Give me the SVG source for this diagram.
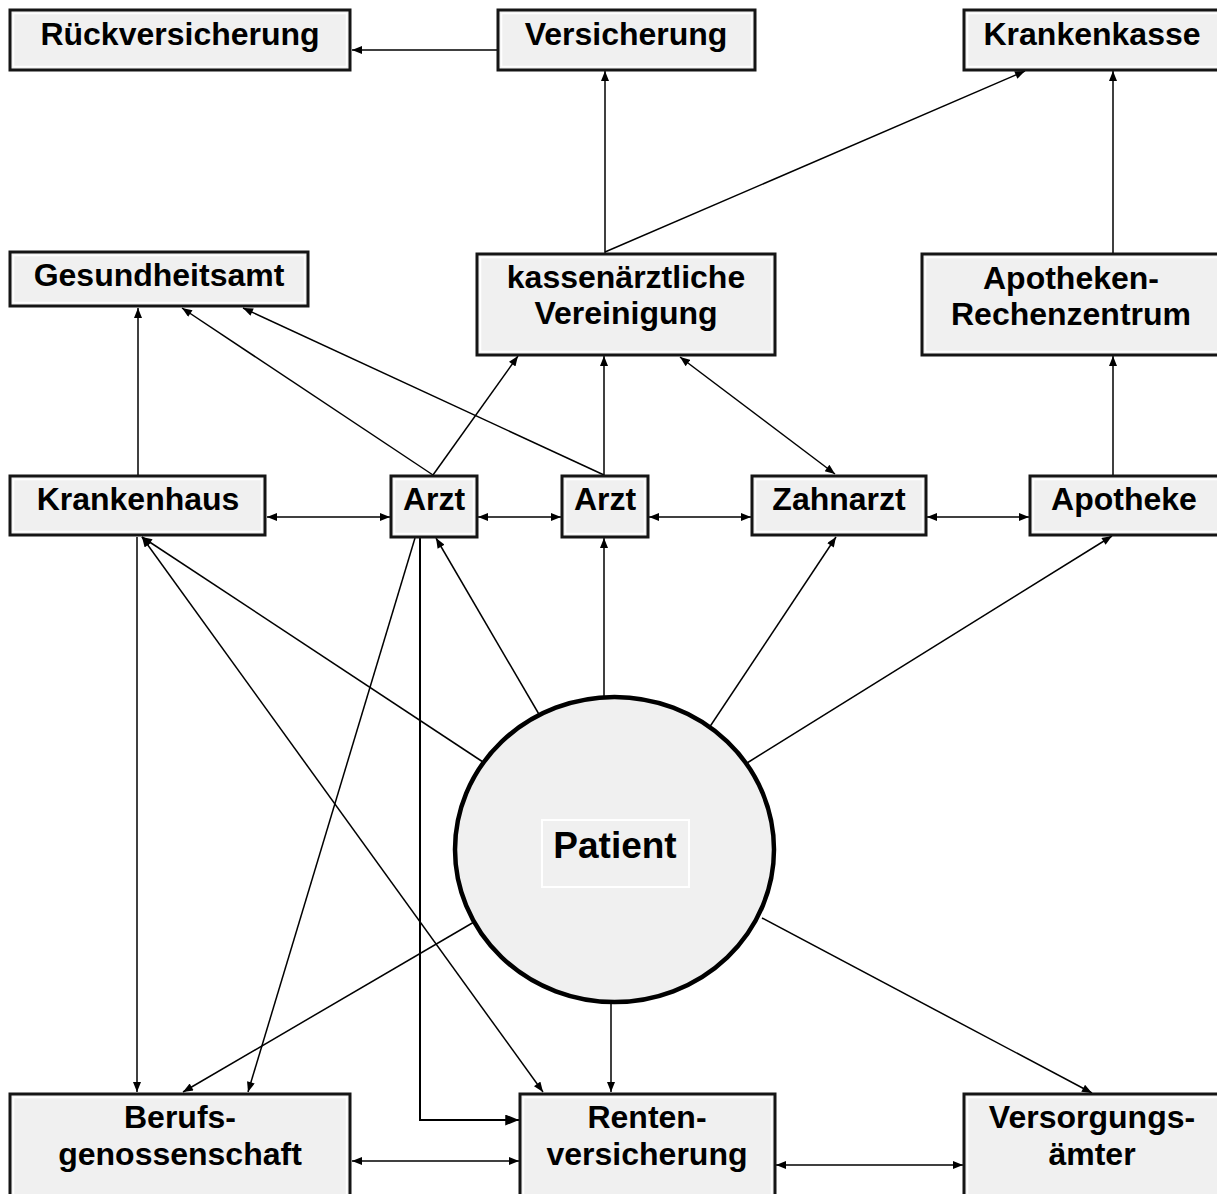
<svg xmlns="http://www.w3.org/2000/svg" width="1217" height="1194" viewBox="0 0 1217 1194">
<style>
.box{fill:#f0f0f0;stroke:#151515;stroke-width:3}
.inner{fill:none;stroke:#ffffff;stroke-width:1.5}
.t{font-family:"Liberation Sans",Arial,sans-serif;font-weight:bold;font-size:32px;fill:#000;text-anchor:middle}
.c{fill:none;stroke:#000;stroke-width:1.5}
.a{marker-end:url(#ah)}
.b{marker-start:url(#ah);marker-end:url(#ah)}
</style>
<defs>
<marker id="ah" viewBox="0 0 10 8" refX="10" refY="4" markerWidth="11" markerHeight="8" orient="auto-start-reverse" markerUnits="userSpaceOnUse"><path d="M0,0 L10,4 L0,8 z" fill="#000"/></marker>
<marker id="ahl" viewBox="0 0 10 8" refX="10" refY="4" markerWidth="14" markerHeight="11" orient="auto" markerUnits="userSpaceOnUse"><path d="M0,0 L10,4 L0,8 z" fill="#000"/></marker>
</defs>
<rect width="1217" height="1194" fill="#fff"/>

<g id="connectors">
<line class="c a" x1="497" y1="50" x2="352" y2="50"/>
<line class="c a" x1="605" y1="253" x2="605" y2="71"/>
<line class="c a" x1="605" y1="252" x2="1025" y2="71"/>
<line class="c a" x1="1113" y1="253" x2="1113" y2="71"/>
<line class="c a" x1="138" y1="475" x2="138" y2="308"/>
<line class="c a" x1="433" y1="475" x2="182" y2="308"/>
<line class="c a" x1="604" y1="475" x2="243" y2="308"/>
<line class="c a" x1="433" y1="475" x2="518" y2="356"/>
<line class="c a" x1="604" y1="475" x2="604" y2="356"/>
<line class="c b" x1="680" y1="357" x2="835" y2="474"/>
<line class="c a" x1="1113" y1="475" x2="1113" y2="356"/>
<line class="c b" x1="267" y1="517" x2="390" y2="517"/>
<line class="c b" x1="478" y1="517" x2="561" y2="517"/>
<line class="c b" x1="649" y1="517" x2="751" y2="517"/>
<line class="c b" x1="927" y1="517" x2="1029" y2="517"/>
<line class="c a" x1="483" y1="762" x2="142" y2="537"/>
<line class="c b" x1="142" y1="537" x2="543" y2="1092"/>
<line class="c a" x1="137" y1="537" x2="137" y2="1092"/>
<line class="c a" x1="415" y1="538" x2="248" y2="1092"/>
<line class="c a" x1="474" y1="922" x2="183" y2="1092"/>
<polyline class="c" style="stroke-width:2;marker-end:url(#ahl)" points="420,538 420,1120 519,1120"/>
<line class="c a" x1="540" y1="716" x2="436" y2="538"/>
<line class="c a" x1="604" y1="697" x2="604" y2="538"/>
<line class="c a" x1="709" y1="728" x2="836" y2="537"/>
<line class="c a" x1="747" y1="763" x2="1112" y2="536"/>
<line class="c a" x1="611" y1="1002" x2="611" y2="1092"/>
<line class="c a" x1="762" y1="918" x2="1092" y2="1093"/>
<line class="c b" x1="352" y1="1161" x2="519" y2="1161"/>
<line class="c b" x1="776" y1="1165" x2="963" y2="1165"/>
</g>

<g id="rueckversicherung"><rect class="box" x="10" y="10" width="340" height="60"/><rect class="inner" x="13.5" y="13.5" width="333" height="53"/><text class="t" x="180" y="45">Rückversicherung</text></g>
<g id="versicherung"><rect class="box" x="498" y="10" width="257" height="60"/><rect class="inner" x="501.5" y="13.5" width="250" height="53"/><text class="t" x="626" y="45">Versicherung</text></g>
<g id="krankenkasse"><rect class="box" x="964" y="10" width="258" height="60"/><rect class="inner" x="967.5" y="13.5" width="251" height="53"/><text class="t" x="1092" y="45">Krankenkasse</text></g>

<g id="gesundheitsamt"><rect class="box" x="10" y="252" width="298" height="54"/><rect class="inner" x="13.5" y="255.5" width="291" height="47"/><text class="t" x="159" y="286">Gesundheitsamt</text></g>
<g id="kv"><rect class="box" x="477" y="254" width="298" height="101"/><rect class="inner" x="480.5" y="257.5" width="291" height="94"/><text class="t" x="626" y="288">kassenärztliche</text><text class="t" x="626" y="324">Vereinigung</text></g>
<g id="apo-rz"><rect class="box" x="922" y="254" width="300" height="101"/><rect class="inner" x="925.5" y="257.5" width="293" height="94"/><text class="t" x="1071" y="289">Apotheken-</text><text class="t" x="1071" y="325">Rechenzentrum</text></g>

<g id="krankenhaus"><rect class="box" x="10" y="476" width="255" height="59"/><rect class="inner" x="13.5" y="479.5" width="248" height="52"/><text class="t" x="138" y="510">Krankenhaus</text></g>
<g id="arzt1"><rect class="box" x="391" y="476" width="86" height="61"/><rect class="inner" x="394.5" y="479.5" width="79" height="54"/><text class="t" x="434" y="510">Arzt</text></g>
<g id="arzt2"><rect class="box" x="562" y="476" width="86" height="61"/><rect class="inner" x="565.5" y="479.5" width="79" height="54"/><text class="t" x="605" y="510">Arzt</text></g>
<g id="zahnarzt"><rect class="box" x="752" y="476" width="174" height="59"/><rect class="inner" x="755.5" y="479.5" width="167" height="52"/><text class="t" x="839" y="510">Zahnarzt</text></g>
<g id="apotheke"><rect class="box" x="1030" y="476" width="192" height="59"/><rect class="inner" x="1033.5" y="479.5" width="185" height="52"/><text class="t" x="1124" y="510">Apotheke</text></g>

<g id="patient"><ellipse cx="614.5" cy="849.5" rx="159.5" ry="152.5" fill="#f0f0f0" stroke="#000" stroke-width="4.5"/><rect x="542" y="820" width="147" height="67" fill="none" stroke="#fff" stroke-width="2"/><text class="t" x="615" y="858" style="font-size:37px">Patient</text></g>

<g id="berufsgenossenschaft"><rect class="box" x="10" y="1094" width="340" height="110"/><rect class="inner" x="13.5" y="1097.5" width="333" height="103"/><text class="t" x="180" y="1128">Berufs-</text><text class="t" x="180" y="1165">genossenschaft</text></g>
<g id="rentenversicherung"><rect class="box" x="520" y="1094" width="255" height="110"/><rect class="inner" x="523.5" y="1097.5" width="248" height="103"/><text class="t" x="647" y="1128">Renten-</text><text class="t" x="647" y="1165">versicherung</text></g>
<g id="versorgungsaemter"><rect class="box" x="964" y="1094" width="258" height="110"/><rect class="inner" x="967.5" y="1097.5" width="251" height="103"/><text class="t" x="1092" y="1128">Versorgungs-</text><text class="t" x="1092" y="1165">ämter</text></g>
</svg>
